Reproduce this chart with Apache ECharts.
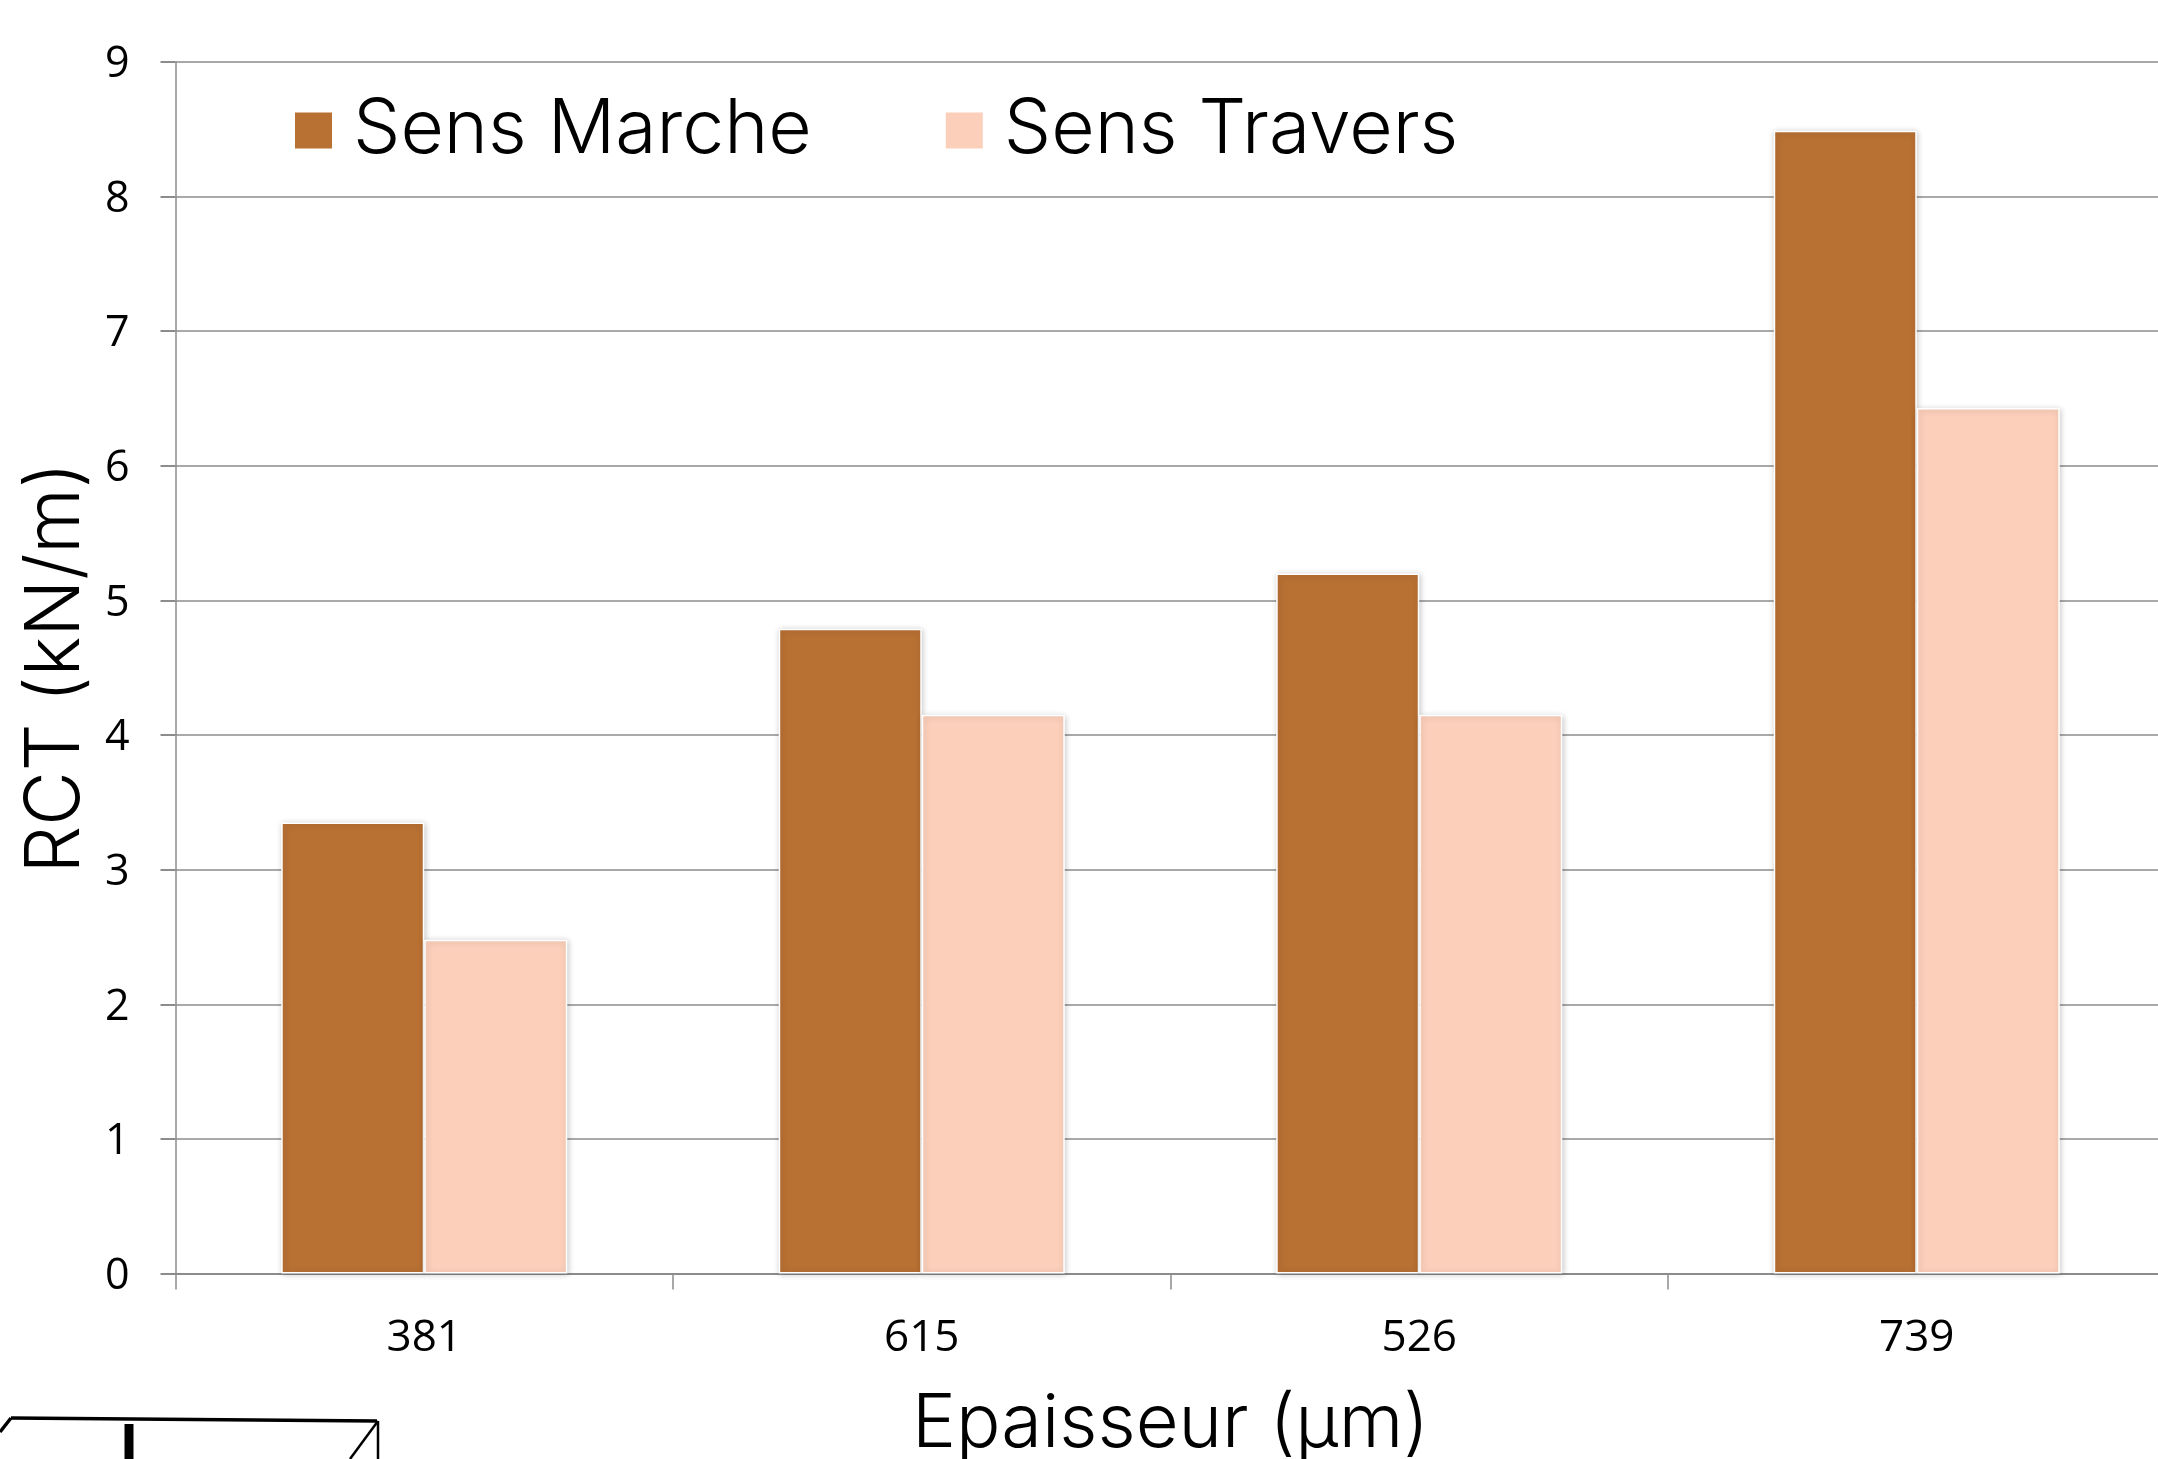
<!DOCTYPE html>
<html><head><meta charset="utf-8">
<style>html,body{margin:0;padding:0;background:#fff;overflow:hidden}#c{width:2158px;height:1459px}</style>
<script src="https://cdn.jsdelivr.net/npm/echarts@6/dist/echarts.min.js"></script></head>
<body><div id="c"></div>
<script>
const categories=['381','615','526','739'];
const sensMarche=[3.35,4.79,5.2,8.49];
const sensTravers=[2.48,4.15,4.15,6.43];
const names=['Sens Marche','Sens Travers'];
const yTicks={min:0,max:9,interval:1};
const titleFont='Inter';
const tickFont='"Open Sans"';
const ink='#000';
const axisGrey='#8c8c8c';
const barStyle=c=>({color:c,borderColor:'#fff',borderWidth:1.5,shadowColor:'rgba(0,0,0,0.2)',shadowBlur:6,shadowOffsetX:1,shadowOffsetY:1});
const line=(x1,y1,x2,y2,w)=>({type:'line',shape:{x1,y1,x2,y2},style:{stroke:'#000',lineWidth:w},silent:true});
const chart=echarts.init(document.getElementById('c'),null,{renderer:'canvas'});
chart.setOption({
  animation:false,
  backgroundColor:'#fff',
  legend:{left:288,top:88,itemWidth:39,itemHeight:38,itemGap:132,icon:'rect',
    textStyle:{fontFamily:titleFont,fontWeight:300,fontSize:75,color:ink,padding:[6,0,0,15]},
    data:names},
  grid:{left:175.5,top:62,width:1990,height:1211.5,outerBoundsMode:'none'},
  xAxis:{type:'category',data:categories,
    axisLine:{lineStyle:{color:axisGrey,width:2}},
    axisTick:{show:true,length:16,lineStyle:{color:axisGrey,width:1.5}},
    axisLabel:{fontFamily:tickFont,fontSize:44,color:ink,margin:43},
    name:'Epaisseur (µm)',nameLocation:'middle',nameGap:114,
    nameTextStyle:{fontFamily:titleFont,fontWeight:300,fontSize:74,color:ink}},
  yAxis:{type:'value',min:yTicks.min,max:yTicks.max,interval:yTicks.interval,
    axisLine:{show:true,lineStyle:{color:axisGrey,width:1.5}},
    axisTick:{show:true,length:15,lineStyle:{color:axisGrey,width:2}},
    splitLine:{lineStyle:{color:axisGrey,width:1.5}},
    axisLabel:{color:ink,margin:46,formatter:'{a|{value}}',
      rich:{a:{fontFamily:tickFont,fontSize:43,color:ink,padding:[6,0,0,0]}}},
    name:'RCT (kN/m)',nameLocation:'middle',nameGap:79,
    nameTextStyle:{fontFamily:titleFont,fontWeight:300,fontSize:75,color:ink}},
  series:[
    {name:names[0],type:'bar',data:sensMarche,barGap:0,barCategoryGap:'42.5%',itemStyle:barStyle('#b87033')},
    {name:names[1],type:'bar',data:sensTravers,itemStyle:barStyle('#fbcfba')}
  ],
  graphic:[
    line(11,1418,377,1421,3.5),line(11,1418,0,1432,3.5),
    line(129,1424,129,1459,9),line(378,1421,378,1459,2.5),line(378,1421,350,1459,2.5)
  ]
});
</script></body></html>
